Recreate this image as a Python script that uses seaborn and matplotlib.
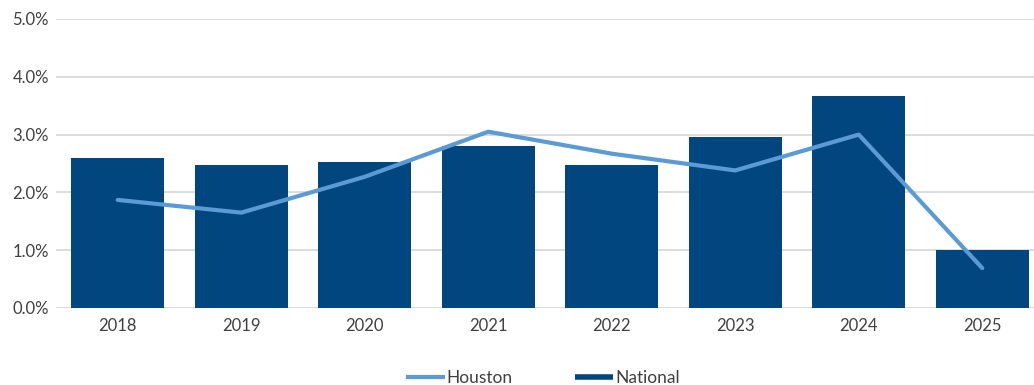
import matplotlib
matplotlib.use("Agg")
import matplotlib.pyplot as plt
import seaborn as sns
import pandas as pd
from matplotlib.lines import Line2D
from matplotlib.ticker import FuncFormatter

years = ["2018", "2019", "2020", "2021", "2022", "2023", "2024", "2025"]
national = [2.60, 2.47, 2.53, 2.80, 2.48, 2.95, 3.66, 1.00]
houston = [1.87, 1.65, 2.27, 3.05, 2.67, 2.38, 3.00, 0.69]
y_ticks = [0, 1, 2, 3, 4, 5]

bar_color = "#02467F"
line_color = "#5B9BD5"
text_color = "#404040"

sns.set_theme(style="white")
plt.rcParams["font.family"] = ["Lato", "DejaVu Sans"]

df = pd.DataFrame({"year": years, "national": national, "houston": houston})

fig = plt.figure(figsize=(10.34, 3.85), dpi=100)
ax = fig.add_axes([56 / 1034, 77 / 385, (1044 - 56) / 1034, (308 - 19) / 385])

sns.barplot(data=df, x="year", y="national", color=bar_color, width=0.755,
            saturation=1, linewidth=0, ax=ax, zorder=2)
sns.lineplot(data=df, x="year", y="houston", color=line_color, linewidth=3,
             sort=False, ax=ax, zorder=3)

ax.set_ylim(0, 5)
ax.set_yticks(y_ticks)
ax.yaxis.set_major_formatter(FuncFormatter(lambda v, p: f"{v:.1f}%"))
ax.grid(axis="y", color="#D9D9D9", linewidth=1.3, zorder=0)
ax.set_axisbelow(True)
for s in ax.spines.values():
    s.set_visible(False)
ax.tick_params(axis="both", length=0, labelsize=12, labelcolor=text_color)
ax.tick_params(axis="x", pad=7)
ax.tick_params(axis="y", pad=5)
ax.set_xlabel("")
ax.set_ylabel("")
ax.set_xlim(-0.5, 7.5)

handles = [Line2D([], [], color=line_color, linewidth=3, solid_capstyle="butt"),
           Line2D([], [], color=bar_color, linewidth=4, solid_capstyle="butt")]
fig.legend(handles, ["Houston", "National"], loc="center",
           bbox_to_anchor=(543 / 1034, 1 - 378 / 385), ncol=2, frameon=False,
           fontsize=12.5, labelcolor=text_color, handlelength=2.2,
           handletextpad=0.1, columnspacing=3.6)

fig.savefig("out.png", dpi=100)
